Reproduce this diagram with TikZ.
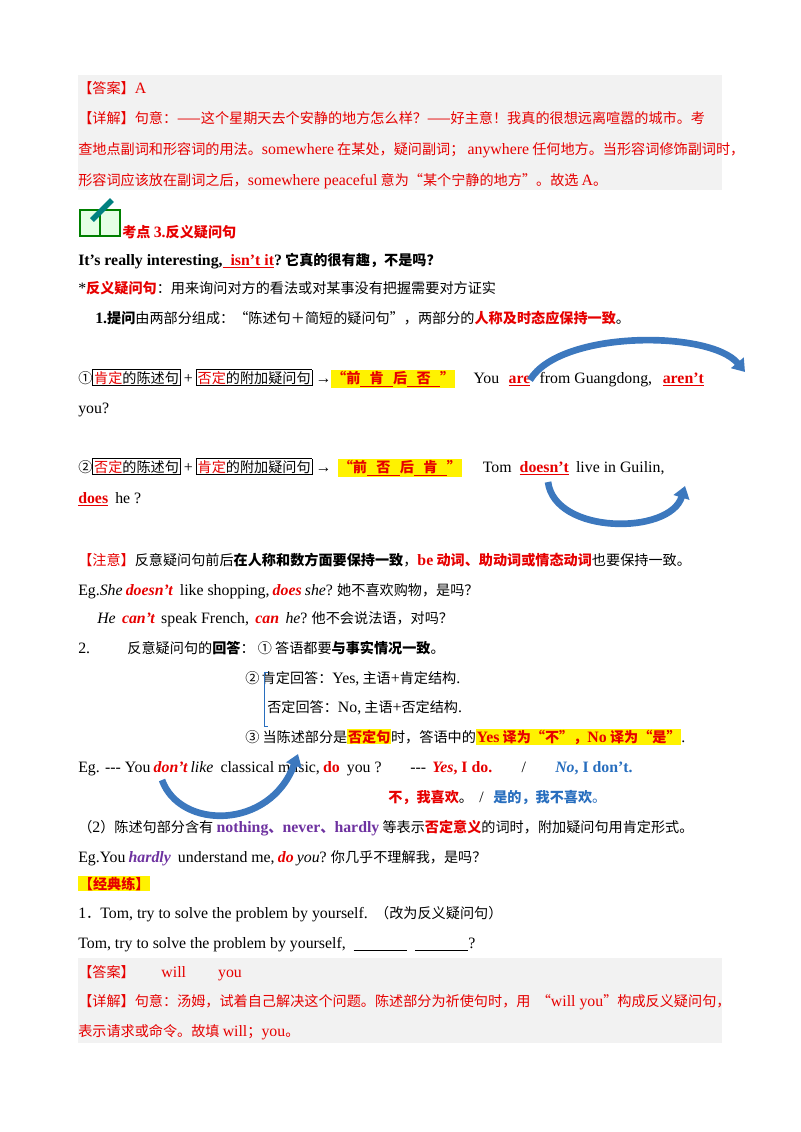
\documentclass[tikz,border=0pt]{standalone}
\usepackage{fontspec}
\setmainfont{Noto Sans CJK SC}
\newfontfamily\en[Scale=1.12]{Liberation Serif}
\usetikzlibrary{arrows.meta}
\definecolor{rd}{RGB}{230,0,0}
\definecolor{bl}{RGB}{40,110,190}
\definecolor{pu}{RGB}{110,50,160}
\definecolor{gr}{RGB}{242,242,242}
\definecolor{arr}{RGB}{60,120,190}
\newcommand\E[1]{{\en #1}}
\newcommand\R[1]{{\color{rd}#1}}
\newcommand\hl[1]{{\setlength\fboxsep{0.5pt}\colorbox{yellow}{#1}}}
\newcommand\bx[1]{{\setlength\fboxsep{0.8pt}\setlength\fboxrule{0.5pt}\fbox{#1}}}
\newcommand\ru[1]{{\color{rd}\underline{#1}}}
\newcommand\ul[1]{\underline{\hspace{7pt}#1\hspace{7pt}}}
\begin{document}
\begin{tikzpicture}[x=0.75pt,y=-0.75pt,
  t/.style={anchor=base west,inner sep=0pt,font=\fontsize{10.6}{12}\selectfont},
  ar/.style={line width=5pt,draw=arr,-{Triangle[length=9pt,width=12pt]}}]
\useasboundingbox (0,0) rectangle (800,1132);
\fill[gr] (78,75) rectangle (722,190);
\fill[gr] (78,958) rectangle (722,1043);
\node[t] (a1) at (78,93) {\R{【答案】\E{A}}};
\node[t] (a2) at (78,123) {\R{【详解】句意：——这个星期天去个安静的地方怎么样？——好主意！我真的很想远离喧嚣的城市。考}};
\node[t] (a3) at (78,154) {\R{查地点副词和形容词的用法。\E{somewhere} 在某处，疑问副词；\ \E{anywhere} 任何地方。当形容词修饰副词时，}};
\node[t] (a4) at (78,185) {\R{形容词应该放在副词之后，\E{somewhere peaceful} 意为“某个宁静的地方”。故选 \E{A}。}};
% icon
\draw[green!50!black,line width=1pt,fill=green!10] (80,210) rectangle (120,236);
\draw[green!50!black,line width=1pt] (100,210) -- (100,236);
\draw[line width=4pt,teal] (92,220) -- (112,200);
\node[t] (h) at (122,237) {\R{\bfseries 考点 \E{\bfseries 3.}反义疑问句}};
\node[t] (l1) at (78,265) {\bfseries\E{\bfseries It’s really interesting,}\ru{\E{\bfseries\ \ isn’t it}}\E{\bfseries ?}\ 它真的很有趣，不是吗？};
\node[t] (l2) at (78,293) {\E{*}\R{\bfseries 反义疑问句}：用来询问对方的看法或对某事没有把握需要对方证实};
\node[t] (l3) at (95,323) {\E{\bfseries 1.}\textbf{提问}由两部分组成：“陈述句＋简短的疑问句”，两部分的\R{\bfseries 人称及时态应保持一致}。};
\node[t] (l4) at (78,383) {①\bx{\R{肯定}的陈述句} \E{+} \bx{\R{否定}的附加疑问句} \E{→}\hl{\R{\bfseries “前\ul{肯}后\ul{否}”}}\hspace{14pt}\E{You}\hspace{7pt}\ru{\E{\bfseries are}}\hspace{7pt}\E{from Guangdong,}\hspace{8pt}\ru{\E{\bfseries aren’t}}};
\node[t] (l5) at (78,413) {\E{you?}};
\node[t] (l6) at (78,472) {②\bx{\R{否定}的陈述句} \E{+} \bx{\R{肯定}的附加疑问句} \E{→}\hspace{5pt}\hl{\R{\bfseries “前\ul{否}后\ul{肯}”}}\hspace{16pt}\E{Tom}\hspace{6pt}\ru{\E{\bfseries doesn’t}} \E{ live in Guilin,}};
\node[t] (l7) at (78,503) {\ru{\E{\bfseries does}} \E{ he ?}};
\coordinate (p1) at (530,380); \coordinate (q1) at (745,372);
\draw[ar] (p1) .. controls (560,330) and (710,330) .. (q1);
\coordinate (p2) at (548,482); \coordinate (q2) at (685,486);
\draw[ar] (p2) .. controls (555,535) and (670,535) .. (q2);
\node[t] (n1) at (78,565) {\R{【注意】}反意疑问句前后\textbf{在人称和数方面要保持一致}，\R{\bfseries \E{\bfseries be} 动词、助动词或情态动词}也要保持一致。};
\node[t] (n2) at (78,595) {\E{Eg.\textit{She}} \R{\E{\bfseries\itshape doesn’t}} \E{ like shopping,} \R{\E{\bfseries\itshape does}} \E{\itshape she}\E{?} 她不喜欢购物，是吗？};
\node[t] (n3) at (97,623) {\E{\itshape He} \ \R{\E{\bfseries\itshape can’t}} \ \E{speak French,} \ \R{\E{\bfseries\itshape can}} \ \E{\itshape he}\E{?} 他不会说法语，对吗？};
\node[t] (n4) at (78,653) {\E{2.}\hspace{28pt}反意疑问句的\textbf{回答}：\ ① 答语都要\textbf{与事实情况一致}。};
\node[t] (n5) at (245,683) {②\,肯定回答：\E{Yes,} 主语\E{+}肯定结构\E{.}};
\node[t] (n6) at (267,712) {否定回答：\E{No,} 主语\E{+}否定结构\E{.}};
\draw[bl,thin] (268,672) -- (264,672) -- (264,726) -- (268,726);
\node[t] (n7) at (245,742) {③\ 当陈述部分是\hl{\R{\bfseries 否定句}}时，答语中的\hl{\R{\bfseries\E{\bfseries Yes} 译为“不”，\E{\bfseries No} 译为“是”}}\E{.}};
\node[t] (n8) at (78,772) {\E{Eg. --- You} \R{\E{\bfseries\itshape don’t}} \E{\itshape like} \E{ classical music,} \R{\E{\bfseries do}} \E{ you ?}};
\node[t] (n9) at (410,772) {\E{---}\ \ \R{\E{\bfseries\itshape Yes}\E{\bfseries , I do.}}\hspace{22pt}\E{/}\hspace{22pt}{\color{bl}\E{\bfseries\itshape No}\E{\bfseries , I don’t.}}};
\node[t] (n10) at (388,802) {\R{\bfseries\itshape 不，我喜欢}。\ \ \E{/}\ \ \ {\color{bl}\bfseries\itshape 是的，我不喜欢}{\color{bl}。}};
\coordinate (p3) at (162,780); \coordinate (q3) at (298,754);
\draw[ar] (p3) .. controls (180,830) and (270,830) .. (q3);
\node[t] (m1) at (78,832) {（\E{2}）陈述句部分含有 {\color{pu}\E{\bfseries nothing}\textbf{、}\E{\bfseries never}\textbf{、}\E{\bfseries hardly}} 等表示\R{\bfseries 否定意义}的词时，附加疑问句用肯定形式。};
\node[t] (m2) at (78,862) {\E{Eg.You} {\color{pu}\E{\bfseries\itshape hardly}} \E{ understand me,} \R{\E{\bfseries\itshape do}} \E{\itshape you}\E{?} 你几乎不理解我，是吗？};
\node[t] (m3) at (78,889) {\hl{\R{\bfseries 【经典练】}}};
\node[t] (m4) at (78,918) {\E{1}．\E{Tom, try to solve the problem by yourself.} \ （改为反义疑问句）};
\node[t] (m5) at (78,948) {\E{Tom, try to solve the problem by yourself,\ \ \underline{\hspace{40pt}}\ \ \underline{\hspace{40pt}}?}};
\node[t] (b1) at (78,977) {\R{【答案】\hspace{20pt}\E{will}\hspace{24pt}\E{you}}};
\node[t] (b2) at (78,1006) {\R{【详解】句意：汤姆，试着自己解决这个问题。陈述部分为祈使句时，用 \ “\E{will you}”构成反义疑问句，}};
\node[t] (b3) at (78,1036) {\R{表示请求或命令。故填 \E{will}；\E{you}。}};
\end{tikzpicture}
\end{document}
